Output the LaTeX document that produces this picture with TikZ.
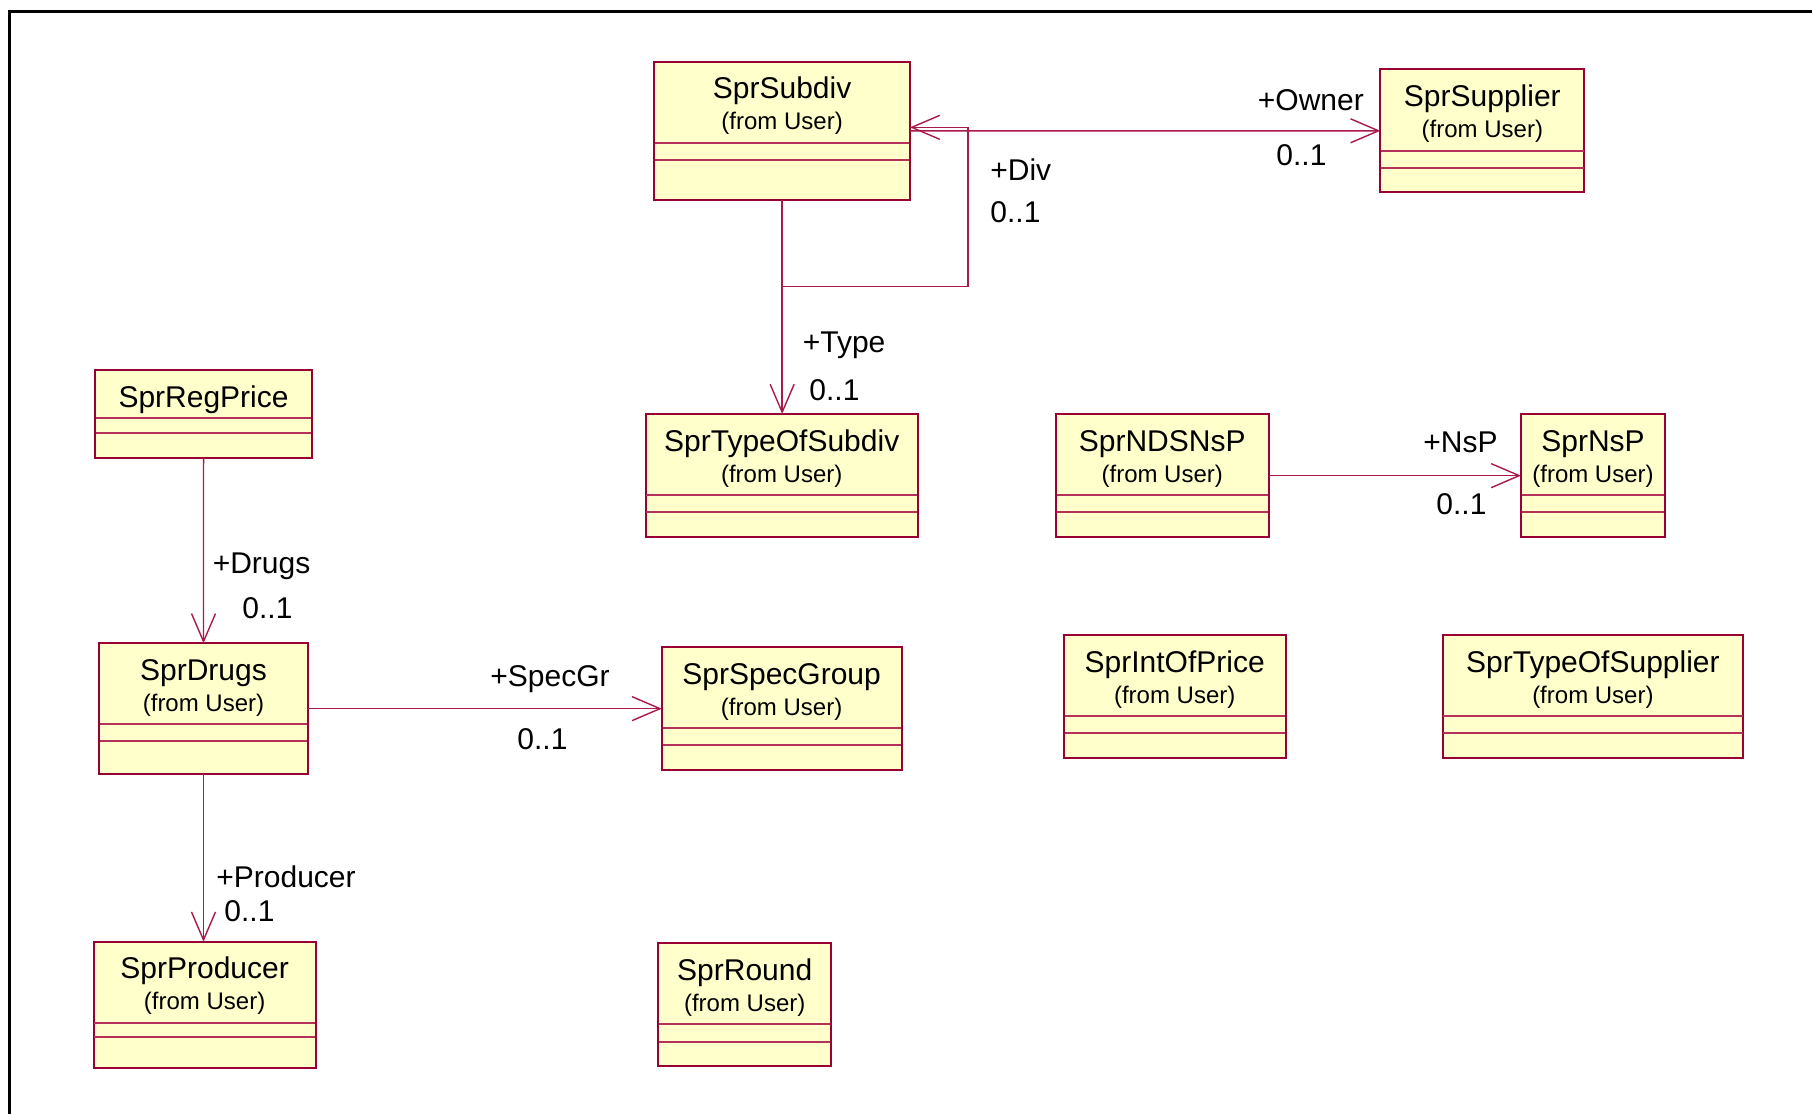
\documentclass[tikz,border=0pt]{standalone}
\usepackage{fontspec}
\setmainfont{Liberation Sans}
\usetikzlibrary{arrows.meta,fit}
\definecolor{umlfill}{RGB}{255,255,204}
\definecolor{umlborder}{RGB}{153,0,51}
\definecolor{umlline}{RGB}{170,25,75}
\definecolor{umlsep}{RGB}{180,50,90}
\tikzset{
  classbox/.style={draw=umlborder, fill=umlfill, line width=1pt, inner sep=0pt, outer sep=0pt},
  sepline/.style={draw=umlsep, line width=0.9pt},
  clsname/.style={anchor=base, inner sep=0pt, font=\fontsize{15}{18}\selectfont},
  clsfrom/.style={anchor=base, inner sep=0pt, font=\fontsize{12}{14}\selectfont},
  rolelbl/.style={anchor=base west, inner sep=0pt, font=\fontsize{15}{18}\selectfont},
  assoc/.style={draw=umlline, line width=0.7pt, -{Straight Barb[length=14pt,width=12pt]}},
  frameline/.style={draw=black, line width=1.6pt}
}
\newcommand\umlclass[9]{%
  \node[classbox, fit={(#2,#3) (#4,#5)}] (#1) {};
  \draw[sepline] ({#2+0.8},#6) -- ({#4-0.8},#6);
  \draw[sepline] ({#2+0.8},#7) -- ({#4-0.8},#7);
  \node[clsname] (#1-name) at ({(#2+#4)/2},{#3+37}) {#8};
  \def\umltmp{#9}%
  \ifx\umltmp\empty\else
    \node[clsfrom] (#1-from) at ({(#2+#4)/2},{#3+68}) {#9};
  \fi
}
\begin{document}
\begin{tikzpicture}[x=0.5pt, y=-0.5pt]
\useasboundingbox (0,0) rectangle (1812,1114);
\fill[white] (0,0) rectangle (1812,1114);
\draw[frameline] (9.5,1120) -- (9.5,11.5) -- (1820,11.5);

\umlclass{subdiv}{654.3}{61.7}{910}{200}{142.7}{160.3}{SprSubdiv}{(from User)}
\umlclass{supplier}{1380.3}{69.3}{1584.4}{192.3}{150.7}{167.7}{SprSupplier}{(from User)}
\umlclass{regprice}{95.1}{370}{312}{458}{418.3}{433.3}{SprRegPrice}{}
\umlclass{typesub}{645.6}{414}{917.8}{537.3}{495}{512.3}{SprTypeOfSubdiv}{(from User)}
\umlclass{ndsnsp}{1056}{414}{1268.5}{537.3}{495}{512.3}{SprNDSNsP}{(from User)}
\umlclass{nsp}{1521}{414}{1665}{537.3}{495}{512.3}{SprNsP}{(from User)}
\umlclass{drugs}{99}{643.3}{308}{774}{724}{741}{SprDrugs}{(from User)}
\umlclass{specgroup}{661.8}{647.3}{901.5}{770}{727.7}{745}{SprSpecGroup}{(from User)}
\umlclass{intofprice}{1063.8}{635.3}{1285.6}{758.3}{716.3}{733.3}{SprIntOfPrice}{(from User)}
\umlclass{typesupplier}{1442.5}{635.3}{1743.3}{758.3}{716.3}{733.3}{SprTypeOfSupplier}{(from User)}
\umlclass{producer}{93.6}{941.7}{315.7}{1068.3}{1022.7}{1037.3}{SprProducer}{(from User)}
\umlclass{round}{658.4}{943.3}{831}{1066}{1024.3}{1041.7}{SprRound}{(from User)}

% associations
\draw[assoc] (subdiv.east) -- (supplier.west);
\draw[assoc] (subdiv.south) -- ++(0,86.7) -- ++(186,0) |- ([yshift=1.75pt]subdiv.east);
\draw[assoc] (subdiv.south) -- (subdiv.south |- typesub.north);
\draw[assoc] (regprice.south) -- (drugs.north);
\draw[assoc] (drugs.east) -- (specgroup.west);
\draw[assoc] (ndsnsp.east) -- (nsp.west);
\draw[assoc] (drugs.south) -- (drugs.south |- producer.north);

% role names and multiplicities
\node[rolelbl] (l-owner) at (1257.5,110.7) {+Owner};
\node[rolelbl] (m-owner) at (1276,165) {0..1};
\node[rolelbl] (l-div) at (990,180.7) {+Div};
\node[rolelbl] (m-div) at (990,222.4) {0..1};
\node[rolelbl] (l-type) at (802.4,352.5) {+Type};
\node[rolelbl] (m-type) at (809,400.7) {0..1};
\node[rolelbl] (l-drugs) at (212.4,573.2) {+Drugs};
\node[rolelbl] (m-drugs) at (242,618.7) {0..1};
\node[rolelbl] (l-specgr) at (490,686.5) {+SpecGr};
\node[rolelbl] (m-specgr) at (517,749) {0..1};
\node[rolelbl] (l-nsp) at (1423,452.4) {+NsP};
\node[rolelbl] (m-nsp) at (1436,514.7) {0..1};
\node[rolelbl] (l-producer) at (216,887.5) {+Producer};
\node[rolelbl] (m-producer) at (224,921.4) {0..1};
\end{tikzpicture}
\end{document}
